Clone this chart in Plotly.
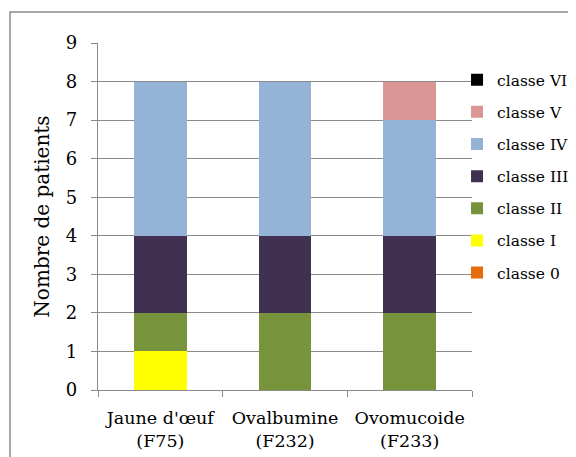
import plotly.graph_objects as go

categories = ["Jaune d'œuf<br>(F75)", "Ovalbumine<br>(F232)", "Ovomucoide<br>(F233)"]
series_names = ["classe 0", "classe I", "classe II", "classe III", "classe IV", "classe V", "classe VI"]
classe_0 = [0, 0, 0]
classe_I = [1, 0, 0]
classe_II = [1, 2, 2]
classe_III = [2, 2, 2]
classe_IV = [4, 4, 3]
classe_V = [0, 0, 1]
classe_VI = [0, 0, 0]
values = [classe_0, classe_I, classe_II, classe_III, classe_IV, classe_V, classe_VI]
colors = ["#E46C0A", "#FFFF00", "#77933C", "#403152", "#95B3D7", "#D99694", "#000000"]
y_ticks = list(range(0, 10))

fig = go.Figure()
n = len(series_names)
for i, (name, vals, col) in enumerate(zip(series_names, values, colors)):
    fig.add_trace(go.Bar(
        x=categories, y=vals, name=name, legendgroup=name, legendrank=n - i,
        marker=dict(color=col, line=dict(width=0)),
    ))

font_family = "DejaVu Serif, Liberation Serif, serif"
fig.update_layout(
    barmode="stack",
    bargap=0.58,
    width=576, height=457,
    margin=dict(l=90, r=112, t=35, b=75, autoexpand=False),
    plot_bgcolor="white", paper_bgcolor="white",
    font=dict(family=font_family, size=18, color="black"),
    legend=dict(
        traceorder="grouped", tracegroupgap=9,
        x=0.960, xanchor="left", y=0.942, yanchor="top",
        font=dict(size=15.5), itemwidth=30, bgcolor="rgba(0,0,0,0)",
    ),
    xaxis=dict(
        showgrid=False, showline=True, linecolor="#8a8a8a", linewidth=1.3,
        ticks="outside", tickson="boundaries", ticklen=6, tickcolor="#8a8a8a",
        tickfont=dict(size=17.5), automargin=False, ticklabelstandoff=12,
    ),
    yaxis=dict(
        range=[0, 9], tickvals=y_ticks, showgrid=True, gridcolor="#8a8a8a", gridwidth=1.3,
        showline=True, linecolor="#8a8a8a", linewidth=1.3,
        ticks="outside", ticklen=6, tickcolor="#8a8a8a",
        tickfont=dict(size=18), zeroline=False, automargin=False, ticklabelstandoff=10,
        title=dict(text="Nombre de patients", font=dict(size=20), standoff=10),
    ),
    shapes=[dict(type="rect", xref="paper", yref="paper",
                 x0=-0.2353, y0=-0.5, x1=1.6, y1=1.0893,
                 line=dict(color="#8a8a8a", width=1.5), fillcolor="rgba(0,0,0,0)", layer="below")],
)

fig.write_html("out.html")
